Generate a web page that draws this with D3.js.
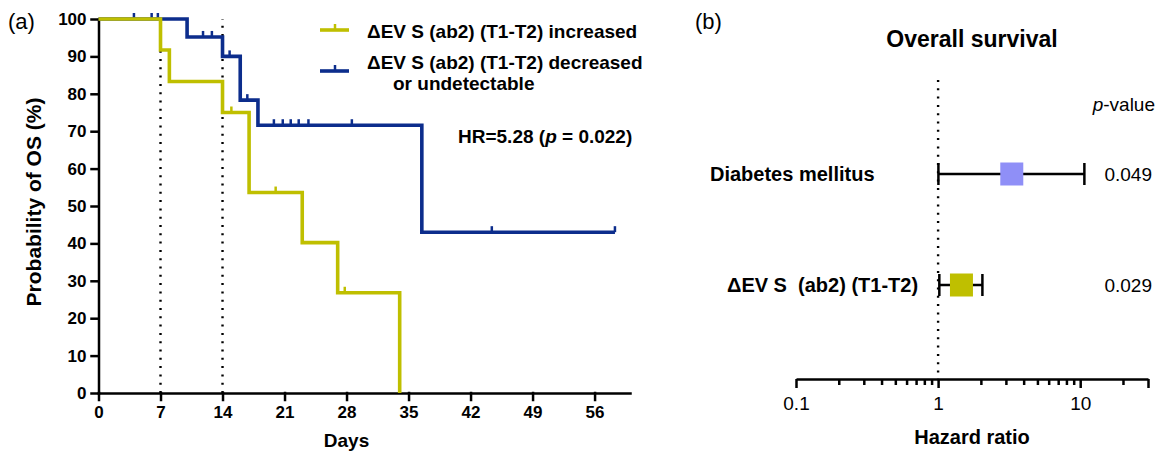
<!DOCTYPE html>
<html>
<head>
<meta charset="utf-8">
<script src="https://cdn.jsdelivr.net/npm/d3@7"></script>
<style>
  body { margin: 0; background: #fff; }
  svg text { font-family: "Liberation Sans", Arial, sans-serif; fill: #000; white-space: pre; }
</style>
</head>
<body>
<svg id="chart" width="1163" height="454"></svg>
<script>
// Kaplan-Meier, ΔEV S increased
const increasedTimes = [0, 7, 8, 14, 17, 23, 27, 34];
const increasedSurv = [100, 91.7, 83.3, 75.0, 53.6, 40.2, 26.8, 0];
const increasedCensored = [15, 20, 27.8];

// Kaplan-Meier, ΔEV S decreased or undetectable
const decreasedTimes = [0, 10, 14, 16, 18, 36.5, 58.3];
const decreasedSurv = [100, 95.2, 90.0, 78.3, 71.6, 43.0, 43.0];
const decreasedCensored = [4, 6, 6.7, 11.8, 12.8, 14.8, 16.8, 19.8, 20.8, 21.7, 22.6, 23.7, 28.6, 44.4, 58.3];

const dayTicks = [0, 7, 14, 21, 28, 35, 42, 49, 56];
const percentTicks = [0, 10, 20, 30, 40, 50, 60, 70, 80, 90, 100];
const landmarkDays = [7, 14];

// forest plot
const forestRows = ['Diabetes mellitus', 'ΔEV S  (ab2) (T1-T2)'];
const forestHR = [3.3, 1.46];
const forestLow = [1.005, 1.02];
const forestHigh = [10.7, 2.05];
const forestP = ['0.049', '0.029'];
const hrTicks = [0.1, 0.2, 0.3, 0.4, 0.5, 0.6, 0.7, 0.8, 0.9, 1, 2, 3, 4, 5, 6, 7, 8, 9, 10, 20, 30];
const hrLabels = [0.1, 1, 10];

const YELLOW = '#bfbf00';
const BLUE = '#0c2d8c';
const PURPLE = '#8f8ff7';

const svg = d3.select('#chart');
svg.append('rect').attr('width', 1163).attr('height', 454).attr('fill', '#fff');

function label(x, y, text, opts = {}) {
  return svg.append('text')
    .attr('x', x).attr('y', y)
    .attr('font-size', opts.size || 18)
    .attr('font-weight', opts.weight || 'normal')
    .attr('text-anchor', opts.anchor || 'start')
    .text(text);
}

function survAt(times, surv, t) {
  let v = surv[0];
  times.forEach((tt, i) => { if (tt <= t) v = surv[i]; });
  return v;
}

// ---------- panel (a) ----------
const x = d3.scaleLinear().domain([0, 60]).range([98.5, 630]);
const y = d3.scaleLinear().domain([0, 100]).range([393, 19]);

const xAxis = svg.append('g')
  .attr('transform', `translate(0,${y(0)})`)
  .call(d3.axisBottom(x).tickValues(dayTicks).tickSize(7).tickSizeOuter(0).tickPadding(6));
const yAxis = svg.append('g')
  .attr('transform', `translate(${x(0)},0)`)
  .call(d3.axisLeft(y).tickValues(percentTicks).tickSize(7).tickSizeOuter(0).tickPadding(5));

[xAxis, yAxis].forEach((g) => {
  g.attr('font-size', 17).attr('font-weight', 'bold').attr('font-family', '"Liberation Sans", Arial, sans-serif');
  g.selectAll('path, line').attr('stroke', '#000').attr('stroke-width', 2.5).attr('stroke-linecap', 'square');
});

landmarkDays.forEach((d) => {
  svg.append('line')
    .attr('x1', x(d)).attr('x2', x(d))
    .attr('y1', y(0)).attr('y2', y(100))
    .attr('stroke', '#000').attr('stroke-width', 2.4)
    .attr('stroke-dasharray', '2,6.3');
});

const stepLine = d3.line()
  .x((d) => x(d[0]))
  .y((d) => y(d[1]))
  .curve(d3.curveStepAfter);

function drawCurve(times, surv, censored, colour) {
  svg.append('path')
    .datum(times.map((t, i) => [t, surv[i]]))
    .attr('d', stepLine)
    .attr('fill', 'none')
    .attr('stroke', colour)
    .attr('stroke-width', 3.6)
    .attr('stroke-linejoin', 'miter');
  svg.append('g').selectAll('line')
    .data(censored)
    .join('line')
    .attr('x1', (t) => x(t)).attr('x2', (t) => x(t))
    .attr('y1', (t) => y(survAt(times, surv, t)))
    .attr('y2', (t) => y(survAt(times, surv, t)) - 6)
    .attr('stroke', colour)
    .attr('stroke-width', 2.5);
}

drawCurve(decreasedTimes, decreasedSurv, decreasedCensored, BLUE);
drawCurve(increasedTimes, increasedSurv, increasedCensored, YELLOW);

// legend
function legendKey(yPos, colour) {
  svg.append('line').attr('x1', 320).attr('x2', 349).attr('y1', yPos).attr('y2', yPos)
    .attr('stroke', colour).attr('stroke-width', 3.6);
  svg.append('line').attr('x1', 335).attr('x2', 335).attr('y1', yPos).attr('y2', yPos - 6)
    .attr('stroke', colour).attr('stroke-width', 2.5);
}
legendKey(30, YELLOW);
legendKey(71, BLUE);
label(367, 38, 'ΔEV S (ab2) (T1-T2) increased', { size: 19, weight: 'bold' });
label(367, 69, 'ΔEV S (ab2) (T1-T2) decreased', { size: 19, weight: 'bold' });
label(393, 90, 'or undetectable', { size: 19, weight: 'bold' });

const hr = label(458, 143, 'HR=5.28 (', { size: 19, weight: 'bold' });
hr.append('tspan').attr('font-style', 'italic').text('p');
hr.append('tspan').text(' = 0.022)');

svg.append('text')
  .attr('transform', 'translate(41,202) rotate(-90)')
  .attr('text-anchor', 'middle')
  .attr('font-size', 21).attr('font-weight', 'bold')
  .text('Probability of OS (%)');
label(x(28), 447, 'Days', { size: 19, weight: 'bold', anchor: 'middle' });
label(8, 29, '(a)', { size: 22 });

// ---------- panel (b) ----------
const hx = d3.scaleLog().domain([0.1, 30]).range([796, 1148]);
const rowY = d3.scaleLinear().domain([0, 1]).range([174, 285]);
const axisY = 379;

svg.append('line')
  .attr('x1', hx(1)).attr('x2', hx(1))
  .attr('y1', 80).attr('y2', axisY)
  .attr('stroke', '#000').attr('stroke-width', 2.4)
  .attr('stroke-dasharray', '2,6.3');

const hAxis = svg.append('g')
  .attr('transform', `translate(0,${axisY})`)
  .call(d3.axisBottom(hx).tickValues(hrTicks).tickSize(9).tickSizeOuter(0).tickPadding(9)
    .tickFormat((d) => (hrLabels.includes(d) ? String(d) : '')));
hAxis.attr('font-size', 19).attr('font-family', '"Liberation Sans", Arial, sans-serif');
hAxis.selectAll('path, line').attr('stroke', '#000').attr('stroke-width', 2.5);
hAxis.selectAll('.tick line').attr('y2', (d) => (hrLabels.includes(d) || d === 30 ? 9 : 6));

forestRows.forEach((name, i) => {
  const cy = rowY(i);
  const g = svg.append('g');
  g.append('line').attr('x1', hx(forestLow[i])).attr('x2', hx(forestHigh[i]))
    .attr('y1', cy).attr('y2', cy).attr('stroke', '#000').attr('stroke-width', 2.5);
  [forestLow[i], forestHigh[i]].forEach((v) => {
    g.append('line').attr('x1', hx(v)).attr('x2', hx(v))
      .attr('y1', cy - 11).attr('y2', cy + 11).attr('stroke', '#000').attr('stroke-width', 2.5);
  });
  g.append('rect')
    .attr('x', hx(forestHR[i]) - 11.5).attr('y', cy - 11.5)
    .attr('width', 23).attr('height', 23)
    .attr('fill', i === 0 ? PURPLE : YELLOW);
  label(1152, cy + 7, forestP[i], { size: 19, anchor: 'end' });
});
label(710, rowY(0) + 7, forestRows[0], { size: 20, weight: 'bold' });
label(727, rowY(1) + 7, forestRows[1], { size: 20, weight: 'bold' });

const pv = label(1155, 111, '', { size: 19, anchor: 'end' });
pv.append('tspan').attr('font-style', 'italic').text('p');
pv.append('tspan').text('-value');

label(972, 47, 'Overall survival', { size: 23, weight: 'bold', anchor: 'middle' });
label(972, 444, 'Hazard ratio', { size: 20, weight: 'bold', anchor: 'middle' });
label(695, 29, '(b)', { size: 22 });
</script>
</body>
</html>
